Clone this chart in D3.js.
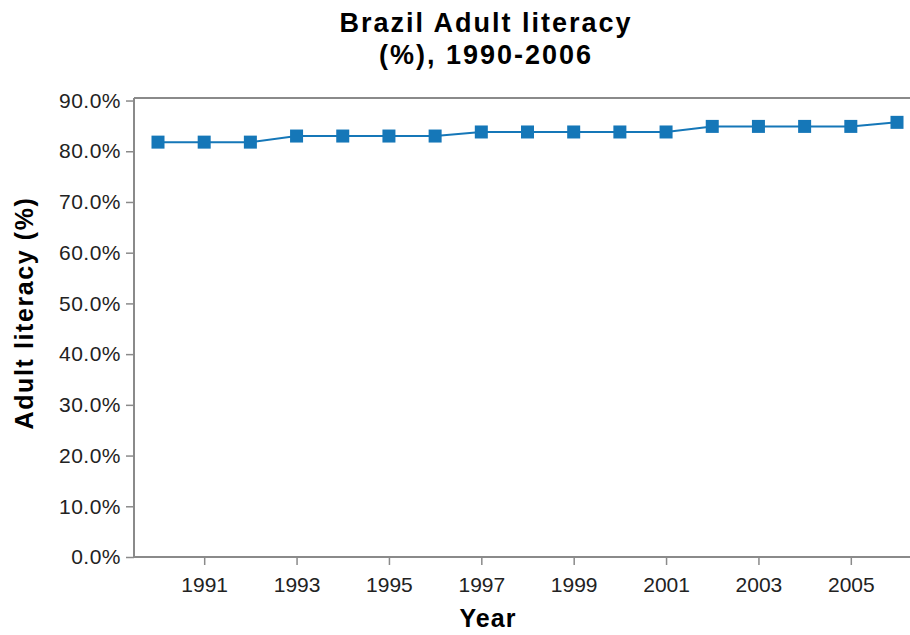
<!DOCTYPE html>
<html>
<head>
<meta charset="utf-8">
<script src="https://cdn.jsdelivr.net/npm/d3@7"></script>
<style>
  html, body { margin: 0; padding: 0; background: #fff; }
  svg { display: block; font-family: "Liberation Sans", Arial, sans-serif; }
</style>
</head>
<body>
<svg id="chart" width="910" height="635"></svg>
<script>
// Brazil adult literacy rate by year
const years = [1990, 1991, 1992, 1993, 1994, 1995, 1996, 1997, 1998,
               1999, 2000, 2001, 2002, 2003, 2004, 2005, 2006];
const literacy = [81.8, 81.8, 81.8, 83.0, 83.0, 83.0, 83.0, 83.8, 83.8,
                  83.8, 83.8, 83.8, 84.9, 84.9, 84.9, 84.9, 85.7];
const xTickYears = [1991, 1993, 1995, 1997, 1999, 2001, 2003, 2005];
const yTicks = [0, 10, 20, 30, 40, 50, 60, 70, 80, 90];
const titleLines = ["Brazil Adult literacy", "(%), 1990-2006"];

const svg = d3.select("#chart");
const plot = { left: 134, right: 960, top: 98, bottom: 557 };
const axisColor = "#8a8a8a";
const seriesColor = "#1577b8";
const labelFont = "'Liberation Sans', Arial, sans-serif";

const x = d3.scaleLinear().domain([1990, 2006]).range([158, 897]);
const y = d3.scaleLinear().domain([0, 90.5]).range([plot.bottom, plot.top]);

// Title
svg.append("text")
  .attr("x", 486).attr("y", 32)
  .attr("text-anchor", "middle")
  .attr("font-size", 27).attr("font-weight", "bold")
  .attr("letter-spacing", 2)
  .selectAll("tspan").data(titleLines).join("tspan")
  .attr("x", 486).attr("dy", (d, i) => i === 0 ? 0 : 32)
  .text(d => d);

// Top frame line
svg.append("line")
  .attr("x1", plot.left).attr("x2", plot.right)
  .attr("y1", plot.top).attr("y2", plot.top)
  .attr("stroke", axisColor).attr("stroke-width", 2);

// Y axis
const yAxis = d3.axisLeft(y)
  .tickValues(yTicks)
  .tickSize(8)
  .tickPadding(5)
  .tickFormat(d => d.toFixed(1) + "%");
const gy = svg.append("g")
  .attr("transform", `translate(${plot.left},0)`)
  .call(yAxis);
gy.select(".domain").attr("stroke", axisColor).attr("stroke-width", 2)
  .attr("d", `M0,${plot.bottom}V${plot.top}`);
gy.selectAll(".tick line").attr("stroke", axisColor).attr("stroke-width", 1.5);
gy.selectAll(".tick text")
  .attr("font-size", 21).attr("fill", "#222")
  .attr("letter-spacing", 0.5)
  .attr("font-family", labelFont);

// X axis
const xAxis = d3.axisBottom(x)
  .tickValues(xTickYears)
  .tickSize(8)
  .tickPadding(12)
  .tickFormat(d3.format("d"));
const gx = svg.append("g")
  .attr("transform", `translate(0,${plot.bottom})`)
  .call(xAxis);
gx.select(".domain").attr("stroke", axisColor).attr("stroke-width", 2)
  .attr("d", `M${plot.left},0H${plot.right}`);
gx.selectAll(".tick line").attr("stroke", axisColor).attr("stroke-width", 1.5);
gx.selectAll(".tick text")
  .attr("font-size", 21).attr("fill", "#222")
  .attr("font-family", labelFont);

// Axis titles
svg.append("text")
  .attr("x", 488).attr("y", 627)
  .attr("text-anchor", "middle")
  .attr("font-size", 25).attr("font-weight", "bold")
  .attr("letter-spacing", 1)
  .text("Year");

svg.append("text")
  .attr("transform", "translate(33,313) rotate(-90)")
  .attr("text-anchor", "middle")
  .attr("font-size", 25).attr("font-weight", "bold")
  .attr("letter-spacing", 1.6)
  .text("Adult literacy (%)");

// Series line and square markers
const data = years.map((yr, i) => ({ year: yr, value: literacy[i] }));

svg.append("path")
  .datum(data)
  .attr("fill", "none")
  .attr("stroke", seriesColor)
  .attr("stroke-width", 2)
  .attr("d", d3.line().x(d => x(d.year)).y(d => y(d.value)));

const m = 13;
svg.append("g").selectAll("rect").data(data).join("rect")
  .attr("x", d => x(d.year) - m / 2)
  .attr("y", d => y(d.value) - m / 2)
  .attr("width", m).attr("height", m)
  .attr("fill", seriesColor);
</script>
</body>
</html>
